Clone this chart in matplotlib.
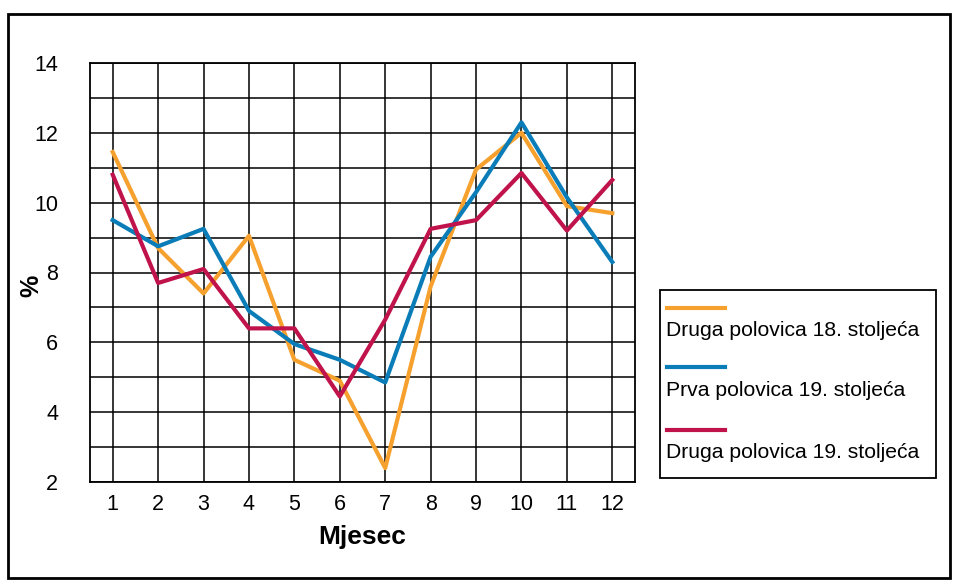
import matplotlib.pyplot as plt
from matplotlib.patches import Rectangle
from matplotlib.lines import Line2D

plt.rcParams['font.family'] = ['Liberation Sans', 'DejaVu Sans']

months = list(range(1, 13))
series_names = ["Druga polovica 18. stoljeća",
                "Prva polovica 19. stoljeća",
                "Druga polovica 19. stoljeća"]
druga_18 = [11.45, 8.7, 7.4, 9.05, 5.5, 4.9, 2.4, 7.6, 10.95, 12.0, 9.9, 9.7]
prva_19 = [9.5, 8.75, 9.25, 6.9, 5.95, 5.5, 4.85, 8.45, 10.3, 12.3, 10.15, 8.3]
druga_19 = [10.8, 7.7, 8.1, 6.4, 6.4, 4.45, 6.65, 9.25, 9.5, 10.85, 9.2, 10.65]
colors = ["#F6A02E", "#0A7DB8", "#C0134C"]
y_labels = [2, 4, 6, 8, 10, 12, 14]

fig = plt.figure(figsize=(9.54, 5.8), dpi=100)
ax = fig.add_axes([90 / 954, 1 - 482 / 580, 545 / 954, 419 / 580])

for vals, c, name in zip([druga_18, prva_19, druga_19], colors, series_names):
    ax.plot(months, vals, color=c, lw=3, label=name, zorder=3)

ax.set_xlim(0.5, 12.5)
ax.set_ylim(2, 14)
ax.set_xticks(months)
ax.set_yticks(range(2, 15))
ax.set_yticklabels([str(v) if v in y_labels else "" for v in range(2, 15)])
ax.tick_params(length=0, labelsize=15.5)
ax.tick_params(axis='y', pad=23)
ax.tick_params(axis='x', pad=9)
ax.grid(True, color='black', lw=1.1)
for s in ax.spines.values():
    s.set_linewidth(1.3)

ax.set_xlabel("Mjesec", fontsize=19, fontweight='bold', labelpad=7)
fig.text(31 / 954, 1 - 286 / 580, "%", rotation=90, fontsize=18,
         fontweight='bold', ha='center', va='center')

# outer frame
fig.add_artist(Rectangle((8 / 954, 0.004), 942 / 954, 1 - 14 / 580 - 0.004,
                         transform=fig.transFigure, fill=False,
                         edgecolor='black', lw=2))

# legend box, keys above labels
fig.add_artist(Rectangle((660 / 954, 1 - 478 / 580), 276 / 954, 188 / 580,
                         transform=fig.transFigure, fill=False,
                         edgecolor='black', lw=1.3))
key_y = [308, 367, 430]
for i, (name, c) in enumerate(zip(series_names, colors)):
    yk = 1 - key_y[i] / 580
    fig.add_artist(Line2D([667 / 954, 725 / 954], [yk, yk], color=c, lw=3,
                          transform=fig.transFigure))
    fig.text(666 / 954, 1 - (key_y[i] + 23) / 580, name, fontsize=15.2,
             ha='left', va='center')

fig.savefig("out.png", dpi=100)
